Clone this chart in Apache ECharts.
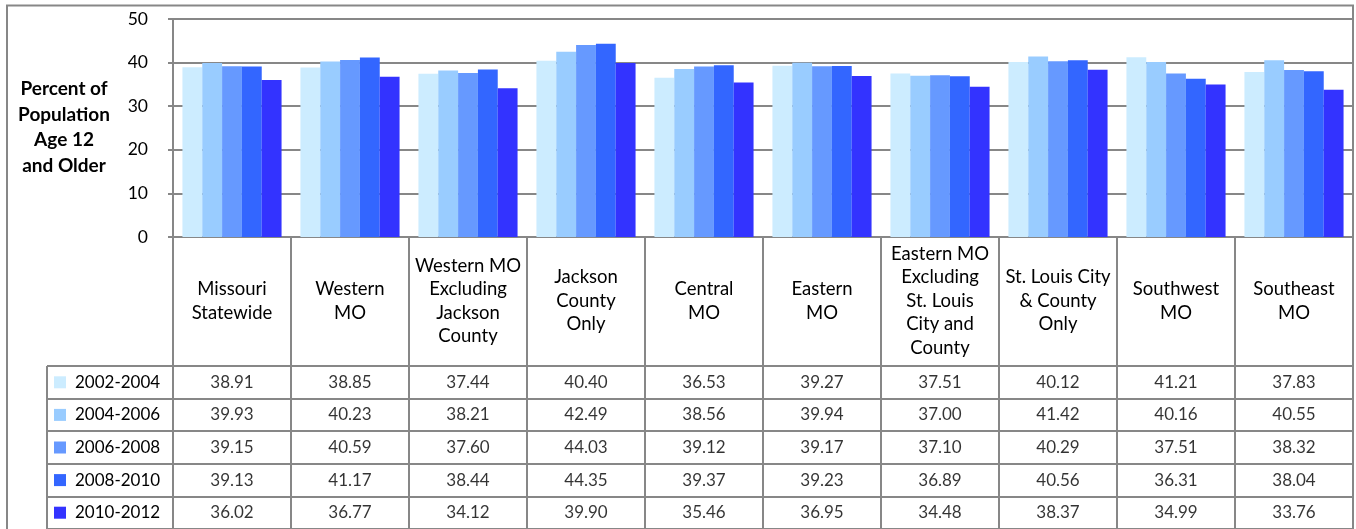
<!DOCTYPE html>
<html>
<head>
<meta charset="utf-8">
<script src="https://cdn.jsdelivr.net/npm/echarts@6/dist/echarts.min.js"></script>
<style>
html,body{margin:0;padding:0;background:#fff;}
#c{width:1356px;height:529px;}
</style>
</head>
<body>
<div id="c"></div>
<script>
const categories = [
  'Missouri\nStatewide',
  'Western\nMO',
  'Western MO\nExcluding\nJackson\nCounty',
  'Jackson\nCounty\nOnly',
  'Central\nMO',
  'Eastern\nMO',
  'Eastern MO\nExcluding\nSt. Louis\nCity and\nCounty',
  'St. Louis City\n& County\nOnly',
  'Southwest\nMO',
  'Southeast\nMO'
];
const periods = ['2002-2004', '2004-2006', '2006-2008', '2008-2010', '2010-2012'];
const v2002 = [38.91, 38.85, 37.44, 40.40, 36.53, 39.27, 37.51, 40.12, 41.21, 37.83];
const v2004 = [39.93, 40.23, 38.21, 42.49, 38.56, 39.94, 37.00, 41.42, 40.16, 40.55];
const v2006 = [39.15, 40.59, 37.60, 44.03, 39.12, 39.17, 37.10, 40.29, 37.51, 38.32];
const v2008 = [39.13, 41.17, 38.44, 44.35, 39.37, 39.23, 36.89, 40.56, 36.31, 38.04];
const v2010 = [36.02, 36.77, 34.12, 39.90, 35.46, 36.95, 34.48, 38.37, 34.99, 33.76];
const seriesValues = [v2002, v2004, v2006, v2008, v2010];
const colors = ['#CCECFF', '#99CCFF', '#6699FF', '#3366FF', '#3333FF'];
const yMin = 0, yMax = 50, yInterval = 10;
const yAxisTitle = 'Percent of\nPopulation\nAge 12\nand Older';

const GRAY = '#878787';
const FONT = 'Lato, "Open Sans", sans-serif';

const chart = echarts.init(document.getElementById('c'), null, {renderer: 'canvas'});

const rich = {t: {fontSize: 17, fontFamily: FONT, color: '#000', padding: [0, 0, 0, 9]}};
periods.forEach((p, i) => {
  rich['s' + i] = {width: 12, height: 12, backgroundColor: colors[i]};
});

const barSeries = periods.map((p, i) => ({
  name: p,
  type: 'bar',
  xAxisIndex: 0,
  yAxisIndex: 0,
  data: seriesValues[i],
  barGap: '0%',
  barCategoryGap: '16%',
  itemStyle: {color: colors[i]},
  silent: true
}));

const tableSeries = periods.map((p, i) => ({
  name: p + ' table',
  type: 'scatter',
  xAxisIndex: 2,
  yAxisIndex: 2,
  symbolSize: 1,
  itemStyle: {color: 'transparent'},
  silent: true,
  data: seriesValues[i].map((v, j) => [j, i, v]),
  label: {
    show: true,
    position: 'inside',
    fontSize: 17,
    fontFamily: FONT,
    color: '#000',
    formatter: (prm) => prm.value[2].toFixed(2)
  }
}));

const option = {
  animation: false,
  backgroundColor: '#fff',
  textStyle: {fontFamily: FONT},
  grid: [
    {left: 173, right: 3, top: 19, height: 218, show: true, borderColor: GRAY, borderWidth: 2, backgroundColor: 'transparent'},
    {left: 173, right: 3, top: 237, height: 129},
    {left: 173, right: 3, top: 366, height: 167}
  ],
  xAxis: [
    {
      type: 'category', gridIndex: 0, data: categories,
      axisLine: {show: true, lineStyle: {color: GRAY, width: 2}},
      axisTick: {show: false},
      axisLabel: {
        interval: 0, margin: 64, verticalAlign: 'middle', lineHeight: 23.5,
        fontSize: 18.5, fontFamily: FONT, color: '#000', align: 'center'
      },
      splitLine: {show: false}
    },
    {
      type: 'category', gridIndex: 1, data: categories,
      axisLine: {show: false}, axisTick: {show: false}, axisLabel: {show: false},
      splitLine: {show: true, lineStyle: {color: GRAY, width: 2}}
    },
    {
      type: 'category', gridIndex: 2, data: categories,
      axisLine: {show: false}, axisTick: {show: false}, axisLabel: {show: false},
      splitLine: {show: true, lineStyle: {color: GRAY, width: 2}}
    }
  ],
  yAxis: [
    {
      type: 'value', gridIndex: 0, min: yMin, max: yMax, interval: yInterval,
      axisLine: {show: true, lineStyle: {color: GRAY, width: 2}},
      axisTick: {show: true, length: 5, lineStyle: {color: GRAY, width: 2}},
      axisLabel: {margin: 25, fontSize: 17.5, fontFamily: FONT, color: '#000'},
      splitLine: {show: true, lineStyle: {color: GRAY, width: 2}}
    },
    {
      type: 'value', gridIndex: 1, show: false
    },
    {
      type: 'category', gridIndex: 2, data: periods, inverse: true,
      axisLine: {show: true, lineStyle: {color: GRAY, width: 2}},
      axisTick: {show: true, length: 126, lineStyle: {color: GRAY, width: 2}},
      axisLabel: {
        margin: 119, align: 'left',
        formatter: (v, i) => '{s' + i + '|}{t|' + v + '}',
        rich: rich
      },
      splitLine: {show: true, lineStyle: {color: GRAY, width: 2}}
    }
  ],
  graphic: [
    {
      type: 'rect', silent: true, z: 100,
      shape: {x: 7, y: 5.5, width: 1346, height: 600},
      style: {fill: 'none', stroke: GRAY, lineWidth: 2}
    },
    {
      type: 'line', silent: true, z: 100,
      shape: {x1: 47, y1: 366, x2: 47, y2: 560},
      style: {stroke: GRAY, lineWidth: 2}
    },
    {
      type: 'text', silent: true, z: 100,
      x: 64, y: 127.5,
      style: {
        text: yAxisTitle, fontSize: 19, fontWeight: 'bold', fontFamily: FONT,
        fill: '#000', align: 'center', verticalAlign: 'middle', lineHeight: 25.5
      }
    }
  ],
  series: barSeries.concat(tableSeries)
};

chart.setOption(option);
</script>
</body>
</html>
